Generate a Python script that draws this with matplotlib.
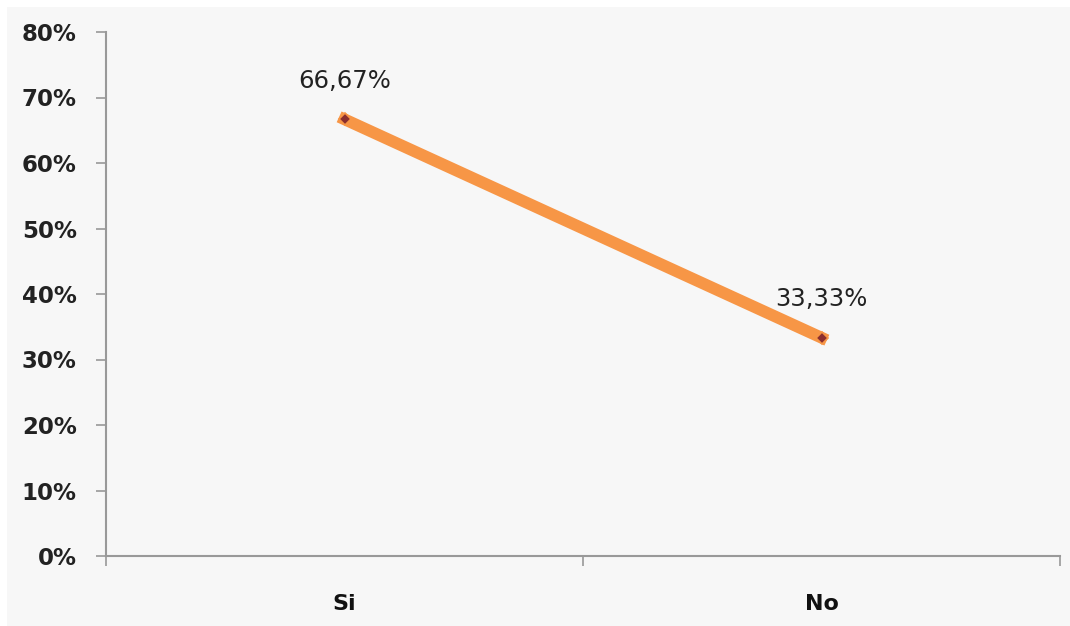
import matplotlib
matplotlib.use("Agg")
import matplotlib.pyplot as plt
from matplotlib.patches import Rectangle
from matplotlib.ticker import FixedLocator

categories = ["Si", "No"]
values = [0.6667, 0.3333]
labels = ["66,67%", "33,33%"]
yticks = [0, 0.1, 0.2, 0.3, 0.4, 0.5, 0.6, 0.7, 0.8]
ytick_labels = ["0%", "10%", "20%", "30%", "40%", "50%", "60%", "70%", "80%"]

W, H = 1070, 626
fig = plt.figure(figsize=(W / 100, H / 100), dpi=100, facecolor="white")
fig.patches.append(Rectangle((7 / W, 0), 1 - 7 / W, 1 - 7 / H, transform=fig.transFigure,
                             facecolor="#f7f7f7", edgecolor="none", zorder=-10))
ax = fig.add_axes([106 / W, 1 - 556 / H, (1060 - 106) / W, (556 - 32) / H])
ax.patch.set_alpha(0)

x = list(range(len(categories)))
ax.plot(x, values, color="#F79646", lw=8.5, solid_capstyle="projecting", zorder=2)
ax.plot(x, values, ls="none", marker="D", ms=6.5, mfc="#8B2E2E", mec="#F79646", mew=1.2, zorder=3)

for xi, v, lab in zip(x, values, labels):
    ax.annotate(lab, (xi, v), xytext=(0, 19), textcoords="offset points",
                ha="center", va="bottom", fontsize=17.5, color="#222222")

ax.set_xlim(-0.5, len(categories) - 0.5)
ax.set_ylim(0, 0.8)
ax.set_yticks(yticks)
ax.set_yticklabels(ytick_labels, fontsize=16.5, fontweight="bold", color="#222222")
ax.set_xticks(x)
ax.set_xticklabels(categories, fontsize=16, fontweight="bold", color="#111111")
ax.xaxis.set_minor_locator(FixedLocator([-0.5, 0.5, 1.5]))
ax.tick_params(axis="x", which="major", length=0, pad=27)
ax.tick_params(axis="x", which="minor", length=7, color="#999999", width=1.2, direction="out")
ax.tick_params(axis="y", length=7, color="#999999", width=1.2, direction="out", pad=14)

for s in ["top", "right"]:
    ax.spines[s].set_visible(False)
for s in ["left", "bottom"]:
    ax.spines[s].set_color("#999999")
    ax.spines[s].set_linewidth(1.5)

fig.savefig("out.png", dpi=100, facecolor="white")
